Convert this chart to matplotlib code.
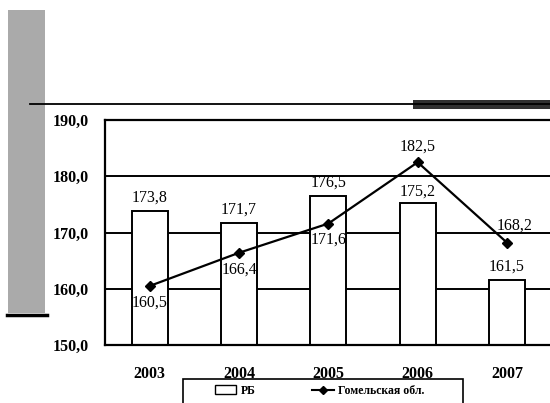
import numpy as np
import matplotlib.pyplot as plt
from matplotlib.patches import Rectangle
from matplotlib.lines import Line2D

years = ['2003', '2004', '2005', '2006', '2007']
rb = [173.8, 171.7, 176.5, 175.2, 161.5]
gomel = [160.5, 166.4, 171.6, 182.5, 168.2]
rb_lbl = ['173,8', '171,7', '176,5', '175,2', '161,5']
gomel_lbl = ['160,5', '166,4', '171,6', '182,5', '168,2']

plt.rcParams['font.family'] = ['Liberation Serif', 'DejaVu Serif']

fig = plt.figure(figsize=(5.5, 4.03), dpi=100)
ax = fig.add_axes([0.191, 0.144, 0.812, 0.558])

x = np.arange(len(years))
ax.bar(x, [v - 150 for v in rb], bottom=150, width=0.4, color='white',
       edgecolor='black', linewidth=1.4, zorder=2)
ax.plot(x, gomel, color='black', marker='D', markersize=5.5, linewidth=1.6, zorder=3)

# labels for bars
rb_off = [5, 5, 5, 3, 5]
for i in range(len(x)):
    ax.text(x[i], rb[i] + rb_off[i] * 0.2, rb_lbl[i], ha='center', va='bottom', fontsize=11.5, zorder=4)

# labels for the line
g_dx = [0, 0, 0, 0, 0.08]
g_dy = [-1.5, -1.5, -1.5, 1.4, 1.6]
for i in range(len(x)):
    va = 'top' if g_dy[i] < 0 else 'bottom'
    ax.text(x[i] + g_dx[i], gomel[i] + g_dy[i], gomel_lbl[i], ha='center', va=va, fontsize=11.5, zorder=4)

ax.set_xlim(-0.5, 4.5)
ax.set_ylim(150, 190)
ax.set_yticks([150, 160, 170, 180, 190])
ax.set_yticklabels(['150,0', '160,0', '170,0', '180,0', '190,0'], fontweight='bold', fontsize=11.5)
ax.set_xticks(x)
ax.set_xticklabels(years, fontweight='bold', fontsize=11.5)
ax.tick_params(length=0, pad=12)
ax.tick_params(axis='x', pad=15)
ax.grid(axis='y', color='black', linewidth=1.4, zorder=0)
ax.set_axisbelow(True)
ax.spines['right'].set_visible(False)
for s in ['left', 'top', 'bottom']:
    ax.spines[s].set_linewidth(1.6)

# scan decorations
fig.patches.append(Rectangle((0.0145, 0.223), 0.067, 0.752, transform=fig.transFigure,
                             facecolor='#aaaaaa', edgecolor='none'))
fig.lines.append(Line2D([0.013, 0.085], [0.218, 0.218], transform=fig.transFigure, color='black', linewidth=2.5))
fig.lines.append(Line2D([0.055, 1.0], [0.742, 0.742], transform=fig.transFigure, color='black', linewidth=1.3))
fig.patches.append(Rectangle((0.751, 0.729), 0.25, 0.022, transform=fig.transFigure,
                             facecolor='#303030', edgecolor='none'))

# legend box runs off the bottom of the page in the scan
fig.patches.append(Rectangle((0.333, -0.05), 0.509, 0.11, transform=fig.transFigure,
                             facecolor='white', edgecolor='black', linewidth=1.2))
handles = [Rectangle((0, 0), 1, 1, facecolor='white', edgecolor='black'),
           Line2D([], [], color='black', marker='D', markersize=4.5)]
leg = fig.legend(handles, ['РБ', 'Гомельская обл.'], loc='upper left', bbox_to_anchor=(0.38, 0.06),
                 ncol=2, frameon=False, prop={'weight': 'bold', 'size': 8.5},
                 borderpad=0.5, borderaxespad=0, columnspacing=4.8, handlelength=1.8, handletextpad=0.4)

fig.savefig('out.png', dpi=100)
